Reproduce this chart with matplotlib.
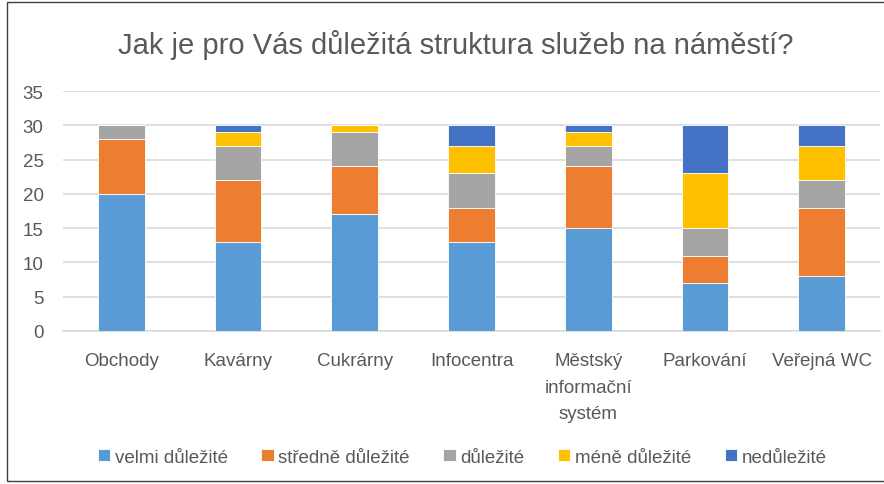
import matplotlib
matplotlib.use("Agg")
import matplotlib.pyplot as plt
import numpy as np
from matplotlib.patches import Rectangle

categories = ["Obchody", "Kavárny", "Cukrárny", "Infocentra",
              "Městský\ninformační\nsystém", "Parkování", "Veřejná WC"]
series_names = ["velmi důležité", "středně důležité", "důležité",
                "méně důležité", "nedůležité"]
velmi = [20, 13, 17, 13, 15, 7, 8]
stredne = [8, 9, 7, 5, 9, 4, 10]
dulezite = [2, 5, 5, 5, 3, 4, 4]
mene = [0, 2, 1, 4, 2, 8, 5]
nedulezite = [0, 1, 0, 3, 1, 7, 3]
colors = ["#5B9BD5", "#ED7D31", "#A5A5A5", "#FFC000", "#4472C4"]

plt.rcParams['font.family'] = ['Liberation Sans', 'DejaVu Sans']
text_col = "#595959"

fig = plt.figure(figsize=(8.84, 4.85), dpi=100)
ax = fig.add_axes([0.0713, 0.3155, 0.9242, 0.4948])

x = np.arange(len(categories))
bottom = np.zeros(len(categories))
for name, vals, col in zip(series_names, [velmi, stredne, dulezite, mene, nedulezite], colors):
    ax.bar(x, vals, 0.4, bottom=bottom, color=col, label=name,
           edgecolor="white", linewidth=0.6, zorder=3)
    bottom += np.array(vals)

ax.set_xlim(-0.5, len(categories) - 0.5)
ax.set_ylim(0, 35)
ax.set_yticks(range(0, 36, 5))
ax.yaxis.grid(True, color="#D9D9D9", linewidth=1.2, zorder=0)
for s in ["top", "right", "left"]:
    ax.spines[s].set_visible(False)
ax.spines["bottom"].set_color("#D9D9D9")
ax.spines["bottom"].set_linewidth(1.2)
ax.tick_params(length=0, colors=text_col, labelsize=13.5)
ax.tick_params(axis="x", pad=15)
ax.tick_params(axis="y", pad=14)
ax.set_xticks(x)
ax.set_xticklabels(categories, linespacing=1.75)

fig.text(0.515, 0.907, "Jak je pro Vás důležitá struktura služeb na náměstí?",
         ha="center", va="center", fontsize=21, color=text_col)

leg = fig.legend(loc="center", bbox_to_anchor=(0.523, 0.055), ncol=5, frameon=False,
                 fontsize=13.5, handlelength=0.65, handleheight=0.65,
                 handletextpad=0.25, columnspacing=1.8)
for t in leg.get_texts():
    t.set_color(text_col)

fig.patches.append(Rectangle((0.008, 0.006), 1.5, 0.988, transform=fig.transFigure,
                             fill=False, edgecolor="#404040", linewidth=1))

fig.savefig("out.png", dpi=100)
